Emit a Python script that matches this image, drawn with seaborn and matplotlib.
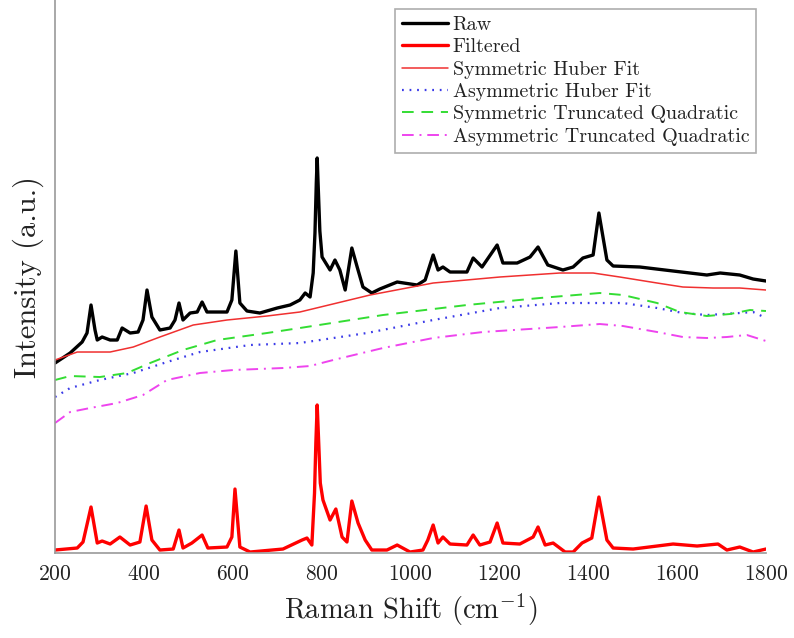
import matplotlib
matplotlib.use("Agg")
import matplotlib.pyplot as plt
import seaborn as sns
import pandas as pd

# Raman shift (cm^-1) and intensity (a.u.)
raw_x = [200, 234, 261, 272, 281, 290, 295, 306, 324, 340, 351, 369, 387, 398, 407,
         418, 436, 459, 470, 479, 488, 504, 520, 531, 542, 565, 587, 598, 607, 616,
         632, 661, 700, 729, 751, 763, 774, 781, 785, 788, 790, 792, 796, 801, 819,
         830, 841, 853, 868, 880, 893, 913, 931, 970, 1015, 1033, 1051, 1062, 1073,
         1089, 1127, 1141, 1161, 1195, 1208, 1240, 1269, 1287, 1309, 1343, 1366,
         1388, 1411, 1424, 1442, 1456, 1516, 1591, 1629, 1667, 1697, 1741, 1771, 1800]
raw_y = [190, 200, 211, 220, 248, 223, 213, 216, 213, 213, 225, 220, 221, 233, 263,
         236, 223, 225, 233, 250, 233, 240, 241, 251, 241, 241, 241, 253, 302, 250,
         242, 240, 245, 248, 253, 260, 256, 280, 320, 370, 395, 370, 322, 296, 283,
         293, 283, 263, 305, 286, 266, 260, 264, 271, 268, 273, 298, 283, 286,
         281, 281, 295, 286, 308, 290, 290, 296, 306, 288, 283, 286,
         295, 298, 340, 293, 287, 286, 282, 280, 278, 280, 278, 274, 272]

filt_x = [200, 250, 263, 281, 295, 306, 324, 346, 369, 391, 405, 418, 436, 466, 479,
          488, 508, 531, 544, 587, 598, 605, 616, 639, 713, 756, 767, 778, 784, 787,
          790, 793, 797, 803, 819, 832, 846, 857, 868, 882, 898, 913, 947, 970, 999,
          1028, 1039, 1051, 1062, 1073, 1089, 1127, 1141, 1156, 1179, 1195, 1208,
          1246, 1276, 1287, 1303, 1321, 1348, 1366, 1386, 1408, 1424, 1442, 1456,
          1501, 1591, 1645, 1692, 1712, 1741, 1771, 1800]
filt_y = [3, 5, 11, 46, 10, 12, 9, 16, 8, 11, 47, 13, 3, 4, 23,
          5, 10, 18, 5, 6, 16, 64, 6, 1, 4, 13, 15, 8, 60, 110,
          148, 115, 70, 53, 33, 44, 16, 11, 52, 30, 13, 3, 3, 8, 1,
          3, 13, 28, 10, 16, 9, 8, 18, 8, 11, 30, 10,
          9, 16, 26, 8, 10, 1, 1, 10, 15, 56, 13, 5,
          4, 9, 7, 9, 3, 6, 1, 4]

shub_x = [200, 250, 324, 376, 436, 511, 587, 677, 751, 909, 1051, 1201, 1336, 1411,
          1471, 1555, 1613, 1681, 1741, 1800]
shub_y = [193, 201, 201, 206, 216, 228, 233, 237, 241, 258, 270, 276, 280, 280,
          276, 270, 266, 265, 265, 263]

ahub_x = [200, 234, 301, 376, 452, 526, 639, 751, 902, 1051, 1201, 1336, 1478, 1555,
          1613, 1667, 1741, 1771, 1800]
ahub_y = [156, 165, 173, 180, 191, 201, 208, 210, 220, 233, 245, 250, 250, 245,
          240, 238, 240, 241, 235]

stq_x = [200, 234, 301, 362, 414, 488, 565, 677, 751, 938, 1127, 1291, 1426, 1478,
         1555, 1606, 1667, 1719, 1764, 1800]
stq_y = [173, 177, 176, 180, 190, 203, 213, 220, 225, 238, 248, 255, 260, 258,
         250, 241, 237, 239, 243, 242]

atq_x = [200, 234, 279, 340, 398, 452, 526, 601, 713, 774, 826, 938, 1051, 1163,
         1336, 1426, 1478, 1555, 1613, 1667, 1712, 1757, 1800]
atq_y = [130, 141, 145, 150, 158, 173, 180, 183, 185, 187, 193, 205, 215, 221,
         226, 229, 227, 221, 216, 215, 216, 218, 212]

x_ticks = [200, 400, 600, 800, 1000, 1200, 1400, 1600, 1800]

sns.set_style("white")
plt.rcParams["font.family"] = "serif"
plt.rcParams["font.serif"] = ["cmr10", "DejaVu Serif"]
plt.rcParams["mathtext.fontset"] = "cm"
plt.rcParams["axes.unicode_minus"] = False
plt.rcParams["axes.formatter.use_mathtext"] = True

fig = plt.figure(figsize=(7.94, 6.38), dpi=100)
ax = fig.add_axes([0.0693, 0.1332, 0.8954, 0.8668])

series = [
    ("Raw", raw_x, raw_y, dict(color="black", linewidth=2.4)),
    ("Filtered", filt_x, filt_y, dict(color="#ff0000", linewidth=2.4)),
    ("Symmetric Huber Fit", shub_x, shub_y, dict(color="#f03030", linewidth=1.1)),
    ("Asymmetric Huber Fit", ahub_x, ahub_y,
     dict(color="#3a3ae8", linewidth=1.6, dashes=(0.8, 2.6))),
    ("Symmetric Truncated Quadratic", stq_x, stq_y,
     dict(color="#33dd33", linewidth=1.4, dashes=(6, 4))),
    ("Asymmetric Truncated Quadratic", atq_x, atq_y,
     dict(color="#ee44ee", linewidth=1.4, dashes=(6, 3, 1, 3))),
]

for name, xs, ys, style in series:
    df = pd.DataFrame({"shift": xs, "intensity": ys})
    dashes = style.pop("dashes", None)
    sns.lineplot(data=df, x="shift", y="intensity", ax=ax, sort=False,
                 estimator=None, label=name, **style)
    if dashes is not None:
        ax.lines[-1].set_dashes(dashes)

ax.set_xlim(200, 1800)
ax.set_ylim(0, 553)
ax.set_xticks(x_ticks)
ax.set_yticks([])
ax.tick_params(axis="x", direction="in", length=5, color="#888888",
               labelsize=15.5, labelcolor="#222222", pad=8)

for side in ["top", "right"]:
    ax.spines[side].set_visible(False)
for side in ["left", "bottom"]:
    ax.spines[side].set_color("#999999")
    ax.spines[side].set_linewidth(1.2)

ax.set_xlabel(r"Raman Shift (cm$^{-1}$)", fontsize=20.5, color="#222222", labelpad=6)
ax.set_ylabel("Intensity (a.u.)", fontsize=22, color="#222222", labelpad=8)

leg = ax.legend(loc="upper right", bbox_to_anchor=(0.9865, 0.984), fontsize=14.4,
                frameon=True, fancybox=False, edgecolor="#999999",
                handlelength=2.3, handletextpad=0.25, labelspacing=0.22,
                borderpad=0.35, borderaxespad=0)
leg.get_frame().set_linewidth(1.2)
for t in leg.get_texts():
    t.set_color("#222222")

fig.savefig("out.png", dpi=100)
